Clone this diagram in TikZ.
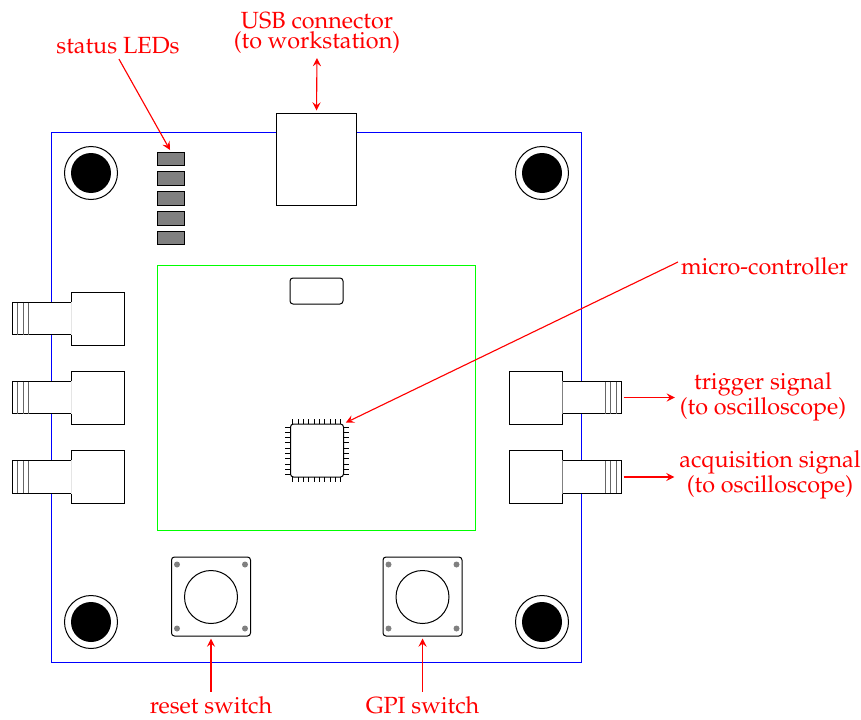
\documentclass[tikz,border=0pt]{standalone}
\usepackage[T1]{fontenc}
\usepackage{mathpazo}
\usepackage{tikz}
\usetikzlibrary{positioning, arrows}
\tikzstyle{part} = [rectangle, draw=black, fill=white, inner sep=0pt, minimum width=21.2pt, minimum height=21.2pt]
\tikzstyle{barrel} = [part, minimum width=23.6pt, minimum height=12.9pt]
\tikzstyle{ledbox} = [part, fill=black!50, minimum width=10.8pt, minimum height=5.4pt]
\tikzstyle{switchbox} = [part, rounded corners=1.2pt, minimum width=31.6pt, minimum height=31.6pt]
\tikzstyle{hole} = [circle, draw=black, fill=white, inner sep=0pt, minimum size=21.2pt]
\tikzstyle{label} = [text=red, inner sep=1pt, align=center, font=\fontsize{9.35pt}{10pt}\selectfont]
\tikzstyle{arrow} = [->,>=stealth, red, line width=0.45pt, shorten >=0.8pt]
\begin{document}
\begin{tikzpicture}[x=0.4pt, y=-0.4pt]
    	\useasboundingbox (0,0) rectangle (861,720);
    	
    	\node [draw=blue, inner sep=0pt, minimum width=211.6pt, minimum height=211.6pt] (board) at (316.5,397.5) {};
    	\node [draw=green, inner sep=0pt, minimum width=126.8pt, minimum height=105.6pt] (module) at (316.5,398) {};
    	
    	% mounting holes
    	\foreach \name/\x/\y in {h1/91/173, h2/542/173, h3/91/622, h4/542/622} {
    		\node [hole] (\name) at (\x,\y) {};
    		\fill (\name.center) circle (8pt);
    	}
    	
    	% leds
    	\foreach \i/\y in {1/159, 2/178.5, 3/198.5, 4/218.5, 5/238} {
    		\node [ledbox] (led\i) at (171,\y) {};
    	}
    	
    	\node [part, minimum width=31.8pt, minimum height=36.8pt] (usb) at (316.5,159) {};
    	\node [part, rounded corners=1.2pt, minimum height=10.4pt] (crystal) at (316.5,291) {};
    	
    	% micro-controller
    	\node [part, rounded corners=1.2pt] (mcu) at (317,450.5) {};
    	\foreach \i in {0,...,9} {
    		\draw (292.7+5.33*\i,419) -- (292.7+5.33*\i,424);
    		\draw (292.7+5.33*\i,477) -- (292.7+5.33*\i,482);
    		\draw (285,427+5.33*\i) -- (291,427+5.33*\i);
    		\draw (343,427+5.33*\i) -- (349,427+5.33*\i);
    	}
    	
    	% connectors on the left
    	\foreach \i/\y in {1/318.5, 2/397.5, 3/477} {
    		\node [barrel] (lbarrel\i) at (42,\y) {};
    		\node [part] (lbox\i) at (98,\y) {};
    		\draw [black!10] (lbox\i.west |- lbarrel\i.north) -- (lbox\i.west |- lbarrel\i.south);
    		\foreach \x in {17.5,23,28.5} {
    			\draw [black!60] (\x,\y-16) -- (\x,\y+16);
    		}
    	}
    	
    	% connectors on the right
    	\foreach \i/\y in {1/397.5, 2/477} {
    		\node [barrel] (rbarrel\i) at (591.5,\y) {};
    		\node [part] (rbox\i) at (535.5,\y) {};
    		\draw [black!50] (rbox\i.east |- rbarrel\i.north) -- (rbox\i.east |- rbarrel\i.south);
    		\foreach \x in {605,610.5,616} {
    			\draw [black!60] (\x,\y-16) -- (\x,\y+16);
    		}
    	}
    	
    	% switches
    	\foreach \i/\x in {1/211, 2/422.5} {
    		\node [switchbox] (sw\i) at (\x,596.5) {};
    		\node [hole] (knob\i) at (\x,597) {};
    		\foreach \dx in {-34,34} {
    			\foreach \y in {564.5,628.5} {
    				\fill [black!50] (\x+\dx,\y) circle (1.2pt);
    			}
    		}
    	}
    	
    	\node [label] (lbl_usb) at (317,32.5) {USB connector\\[-2pt](to workstation)};
    	\node [label] (lbl_led) at (118,46) {status LEDs};
    	\node [label, anchor=west] (lbl_mcu) at (678,266) {micro-controller};
    	\node [label] (lbl_trig) at (763,396.5) {trigger signal\\(to oscilloscope)};
    	\node [label] (lbl_acq) at (770,475) {acquisition signal\\(to oscilloscope)};
    	\node [label] (lbl_reset) at (211,705.5) {reset switch};
    	\node [label] (lbl_gpi) at (422.5,705.5) {GPI switch};
    	
    	\draw[arrow, <->, shorten <=0.8pt] (lbl_usb.south) -- (usb.north);
    	\draw[arrow, shorten <=0.8pt] (lbl_led.south) -- (led1.north);
    	\draw[arrow] ([yshift=1.6pt]lbl_mcu.west) -- (mcu.north east);
    	\draw[arrow, shorten <=0.8pt] (rbarrel1.east) -- (lbl_trig.west |- rbarrel1.east);
    	\draw[arrow, shorten <=0.8pt] (rbarrel2.east) -- (lbl_acq.west |- rbarrel2.east);
    	\draw[arrow, shorten <=0.8pt] (lbl_reset.north) -- (sw1.south);
    	\draw[arrow, shorten <=0.8pt] (lbl_gpi.north) -- (sw2.south);
    	
\end{tikzpicture}
\end{document}
